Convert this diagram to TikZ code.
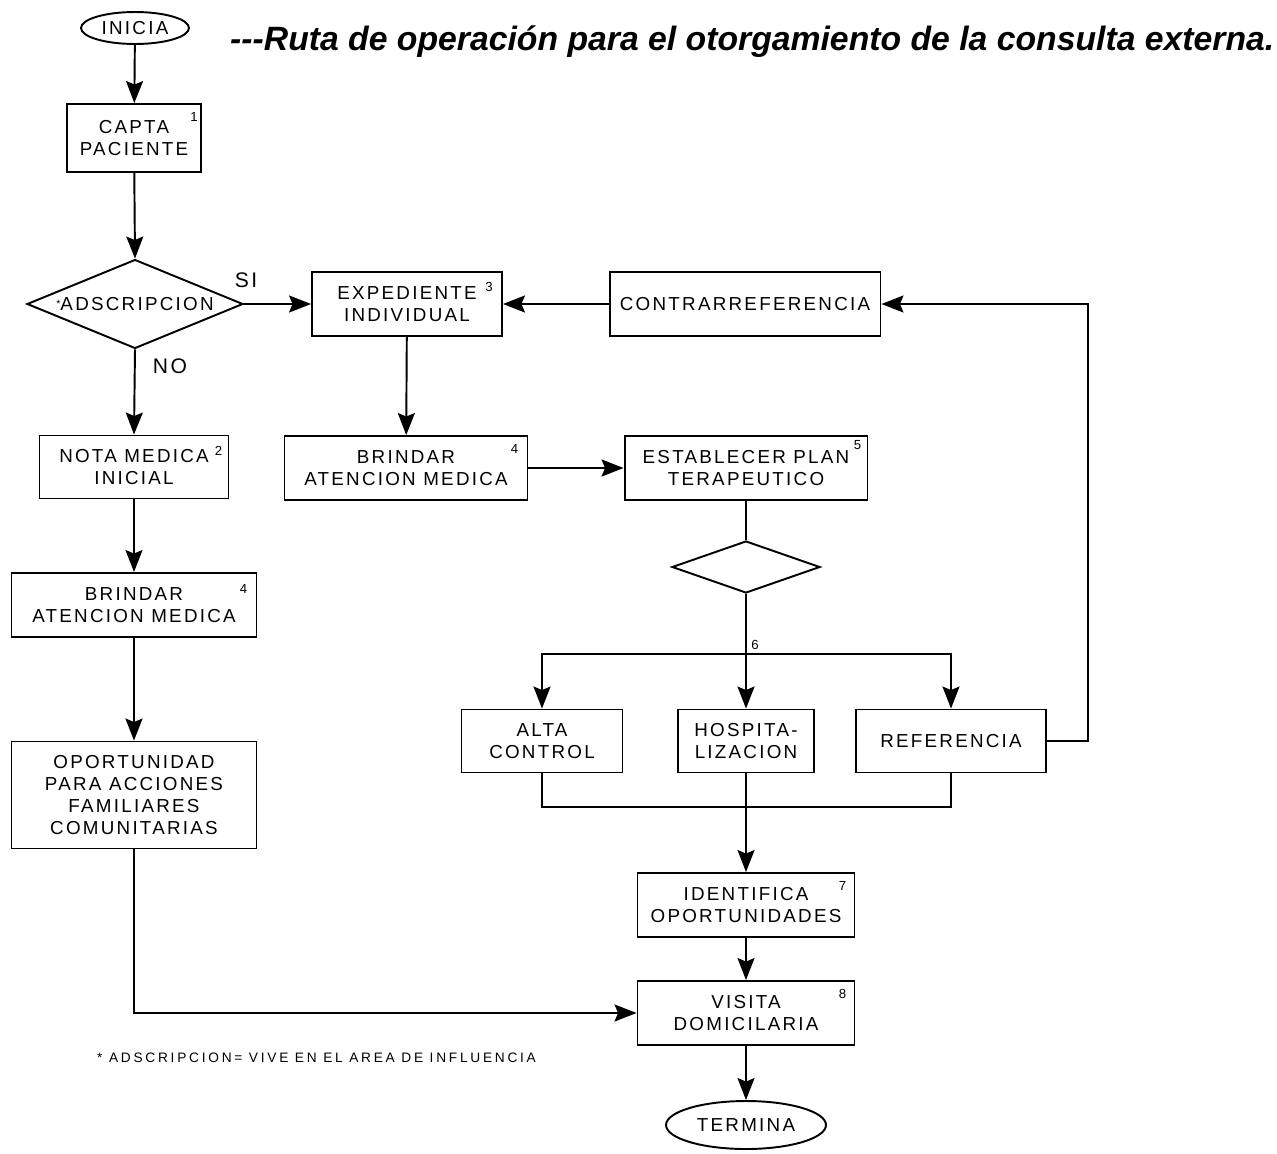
\documentclass[tikz,border=0pt]{standalone}
\usepackage{fontspec}
\setmainfont{Liberation Sans}
\newfontfamily\boxfont[LetterSpace=12]{Liberation Sans}
\newfontfamily\notefont[LetterSpace=20]{Liberation Sans}
\usetikzlibrary{shapes.geometric,arrows.meta,calc}

\tikzset{
    procbox/.style={draw, line width=1.1pt, rectangle, align=center, inner sep=0pt,
        font=\boxfont\fontsize{10.7}{12.5}\selectfont},
    endpoint/.style={draw, line width=1.1pt, ellipse, inner sep=0pt,
        font=\boxfont\fontsize{10.7}{12.5}\selectfont},
    choice/.style={draw, line width=1.1pt, diamond, inner sep=0pt,
        font=\boxfont\fontsize{10.7}{12.5}\selectfont},
    supnum/.style={inner sep=0pt, font=\fontsize{7.5}{8}\selectfont},
    flow/.style={line width=1.1pt, -{Stealth[length=0.44cm, width=0.34cm, inset=0.07cm]}},
    link/.style={line width=1.1pt},
}

\begin{document}
\begin{tikzpicture}[
        x=0.02cm,   % 1 px of the sheet
        y=-0.02cm,  % y runs downwards
    ]
    \useasboundingbox (0,0) rectangle (1277,1153);

    % Title
    \node[anchor=west, font=\fontsize{19.2}{22}\selectfont\bfseries\itshape] (title) at (224, 42)
        {-{}-{}-Ruta de operación para el otorgamiento de la consulta externa.};

    % Left column
    \node[endpoint, minimum width=2.16cm, minimum height=0.64cm] (inicia) at (135, 28) {INICIA};
    \node[procbox, minimum width=2.68cm, minimum height=1.36cm] (capta) at (134, 138) {CAPTA\\PACIENTE};
    \node[choice, minimum width=4.32cm, minimum height=1.78cm, aspect=2.4] (adscr) at (135, 304)
        {\raisebox{0.3ex}{\fontsize{6}{6}\selectfont *}ADSCRIPCION};
    \node[procbox, minimum width=3.78cm, minimum height=1.26cm] (nota) at (134, 467) {NOTA MEDICA\\INICIAL};
    \node[procbox, minimum width=4.9cm, minimum height=1.28cm] (brindarA) at (134, 605) {BRINDAR\\ATENCION MEDICA};
    \node[procbox, minimum width=4.9cm, minimum height=2.14cm] (oport) at (134, 795)
        {OPORTUNIDAD\\PARA ACCIONES\\FAMILIARES\\COMUNITARIAS};

    % Middle and right
    \node[procbox, minimum width=3.8cm, minimum height=1.28cm] (exped) at (407, 304) {EXPEDIENTE\\INDIVIDUAL};
    \node[procbox, minimum width=5.42cm, minimum height=1.28cm] (contra) at (745, 304) {CONTRARREFERENCIA};
    \node[procbox, minimum width=4.86cm, minimum height=1.28cm] (brindarB) at (406, 468) {BRINDAR\\ATENCION MEDICA};
    \node[procbox, minimum width=4.86cm, minimum height=1.28cm] (plan) at (746, 468) {ESTABLECER PLAN\\TERAPEUTICO};
    \node[choice, minimum width=2.96cm, minimum height=1.04cm, aspect=2.8] (decide) at (746, 567) {};

    \node[procbox, minimum width=3.22cm, minimum height=1.26cm] (alta) at (542, 741) {ALTA\\CONTROL};
    \node[procbox, minimum width=2.72cm, minimum height=1.26cm] (hosp) at (746, 741) {HOSPITA-\\LIZACION};
    \node[procbox, minimum width=3.8cm, minimum height=1.26cm] (refer) at (951, 741) {REFERENCIA};

    \node[procbox, minimum width=4.34cm, minimum height=1.28cm] (ident) at (746, 905) {IDENTIFICA\\OPORTUNIDADES};
    \node[procbox, minimum width=4.34cm, minimum height=1.28cm] (visita) at (746, 1013) {VISITA\\DOMICILARIA};
    \node[endpoint, minimum width=3.2cm, minimum height=0.96cm] (termina) at (746, 1125) {TERMINA};

    % Step numbers
    \node[supnum] (n1) at ($(capta.north east)+(-8,14)$) {1};
    \node[supnum] (n2) at ($(nota.north east)+(-11,16)$) {2};
    \node[supnum] (n3) at ($(exped.north east)+(-14,16)$) {3};
    \node[supnum] (n4a) at ($(brindarA.north east)+(-14,17)$) {4};
    \node[supnum] (n4b) at ($(brindarB.north east)+(-14,14)$) {4};
    \node[supnum] (n5) at ($(plan.north east)+(-11,10)$) {5};
    \node[supnum] (n7) at ($(ident.north east)+(-13,14)$) {7};
    \node[supnum] (n8) at ($(visita.north east)+(-13,14)$) {8};

    % Connectors, left column
    \draw[flow] (inicia) -- (capta);
    \draw[flow] (capta) -- (adscr.north);
    \draw[flow] (adscr.east) -- (exped.west);
    \node[font=\boxfont\fontsize{12}{14}\selectfont] (si) at (246, 280) {SI};
    \draw[flow] (adscr.south) -- (nota.north);
    \node[font=\boxfont\fontsize{12}{14}\selectfont] (no) at (170, 366) {NO};
    \draw[flow] (nota) -- (brindarA);
    \draw[flow] (brindarA) -- (oport);
    \draw[flow] (oport.south) |- (visita.west);

    % Connectors, right part
    \draw[flow] (contra.west) -- (exped.east);
    \draw[flow] (exped) -- (brindarB);
    \draw[flow] (brindarB) -- (plan);
    \draw[link] (plan) -- (decide.north);

    \coordinate (split) at (746, 654);
    \draw[link] (decide.south) -- (split);
    \node[supnum, anchor=south west] (n6) at ($(split)+(5,-4)$) {6};
    \draw[flow] (split) -| (alta.north);
    \draw[flow] (split) -- (hosp.north);
    \draw[flow] (split) -| (refer.north);

    \coordinate (join) at (746, 807);
    \draw[link] (alta.south) |- (join);
    \draw[link] (refer.south) |- (join);
    \draw[flow] (hosp.south) -- (ident.north);
    \draw[flow] (ident) -- (visita);
    \draw[flow] (visita) -- (termina);

    % Back to the record
    \draw[flow] (refer.east) -- ++(41,0) |- (contra.east);

    % Footnote
    \node[anchor=west, font=\notefont\fontsize{7.8}{9}\selectfont] (note) at (91, 1058)
        {* ADSCRIPCION= VIVE EN EL AREA DE INFLUENCIA};

\end{tikzpicture}
\end{document}
